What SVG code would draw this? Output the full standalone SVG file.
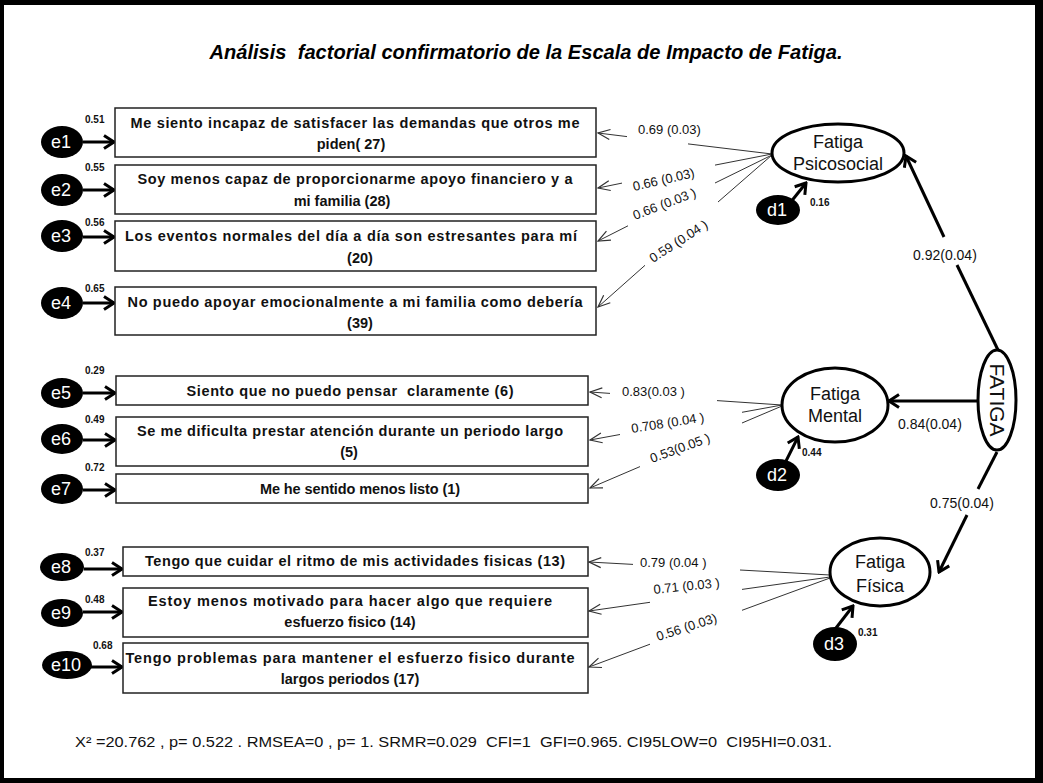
<svg xmlns="http://www.w3.org/2000/svg" width="1043" height="783" viewBox="0 0 1043 783">
<defs>
<style>
.box{fill:#fff;stroke:#222;stroke-width:1.5}
.bt{font-family:"Liberation Sans",Arial,sans-serif;font-weight:bold;font-size:14.5px;fill:#111;text-anchor:middle}
.err{fill:#000}
.et{font-family:"Liberation Sans",Arial,sans-serif;font-size:18px;fill:#fff;text-anchor:middle}
.sm{font-family:"Liberation Sans",Arial,sans-serif;font-weight:bold;font-size:10px;fill:#111}
.lat{fill:#fff;stroke:#000;stroke-width:3}
.lt{font-family:"Liberation Sans",Arial,sans-serif;font-size:18px;fill:#111;text-anchor:middle}
.lab{font-family:"Liberation Sans",Arial,sans-serif;font-size:13px;fill:#111}
.lab2{font-family:"Liberation Sans",Arial,sans-serif;font-size:14px;fill:#111}
.thick{stroke:#000;stroke-width:3;fill:none}
.thin{stroke:#333;stroke-width:1;fill:none}
</style>
<marker id="ah" markerUnits="userSpaceOnUse" viewBox="0 0 14 16" refX="12" refY="8" markerWidth="14" markerHeight="16" orient="auto">
<path d="M2,1.5 L12,8 L2,14.5" fill="none" stroke="#000" stroke-width="3"/>
</marker>
<marker id="at" markerUnits="userSpaceOnUse" viewBox="0 0 14 12" refX="13" refY="6" markerWidth="14" markerHeight="12" orient="auto">
<path d="M1,1 L13,6 L1,11" fill="none" stroke="#333" stroke-width="1.2"/>
</marker>
</defs>
<rect x="0" y="0" width="1043" height="783" fill="#000"/>
<rect x="4" y="5" width="1031" height="773" fill="#fff"/>
<text x="526" y="59" text-anchor="middle" font-family="'Liberation Sans',Arial,sans-serif" font-weight="bold" font-style="italic" font-size="20" textLength="633" lengthAdjust="spacingAndGlyphs" fill="#000" xml:space="preserve">Análisis  factorial confirmatorio de la Escala de Impacto de Fatiga.</text>

<g id="connectors">
<line class="thick" x1="83" y1="142" x2="114" y2="142" marker-end="url(#ah)"/>
<line class="thick" x1="83" y1="190" x2="114" y2="190" marker-end="url(#ah)"/>
<line class="thick" x1="83" y1="237" x2="114" y2="237" marker-end="url(#ah)"/>
<line class="thick" x1="83" y1="303" x2="114" y2="303" marker-end="url(#ah)"/>
<line class="thick" x1="83" y1="393" x2="115" y2="393" marker-end="url(#ah)"/>
<line class="thick" x1="83" y1="440" x2="115" y2="440" marker-end="url(#ah)"/>
<line class="thick" x1="83" y1="490" x2="115" y2="490" marker-end="url(#ah)"/>
<line class="thick" x1="84" y1="569" x2="122" y2="569" marker-end="url(#ah)"/>
<line class="thick" x1="83" y1="612" x2="122" y2="612" marker-end="url(#ah)"/>
<line class="thick" x1="91" y1="667" x2="122" y2="667" marker-end="url(#ah)"/>

<line class="thin" x1="627" y1="136.6" x2="598" y2="133" marker-end="url(#at)"/>
<line class="thin" x1="688" y1="143.9" x2="772" y2="154"/>
<line class="thin" x1="622" y1="183.1" x2="598" y2="188" marker-end="url(#at)"/>
<line class="thin" x1="715" y1="165.1" x2="772" y2="154"/>
<line class="thin" x1="628" y1="225.8" x2="598" y2="241" marker-end="url(#at)"/>
<line class="thin" x1="715" y1="183" x2="772" y2="155"/>
<line class="thin" x1="645" y1="265.3" x2="598" y2="307" marker-end="url(#at)"/>
<line class="thin" x1="718" y1="202" x2="772" y2="155"/>

<line class="thin" x1="610" y1="393.4" x2="590" y2="392" marker-end="url(#at)"/>
<line class="thin" x1="717" y1="400.6" x2="782" y2="405"/>
<line class="thin" x1="620" y1="434.5" x2="590" y2="440" marker-end="url(#at)"/>
<line class="thin" x1="742" y1="412.3" x2="782" y2="405"/>
<line class="thin" x1="640" y1="466.6" x2="590" y2="488" marker-end="url(#at)"/>
<line class="thin" x1="742" y1="423" x2="782" y2="406"/>

<line class="thin" x1="633" y1="564.4" x2="589" y2="562" marker-end="url(#at)"/>
<line class="thin" x1="740" y1="570" x2="830" y2="575"/>
<line class="thin" x1="650" y1="602.3" x2="589" y2="611" marker-end="url(#at)"/>
<line class="thin" x1="742" y1="589.4" x2="830" y2="577"/>
<line class="thin" x1="650" y1="644.2" x2="589" y2="667" marker-end="url(#at)"/>
<line class="thin" x1="742" y1="610.3" x2="830" y2="578"/>

<line class="thick" x1="998" y1="350" x2="957" y2="265"/>
<line class="thick" x1="944" y1="237" x2="906" y2="156" marker-end="url(#ah)"/>
<line class="thick" x1="978" y1="401" x2="889" y2="401" marker-end="url(#ah)"/>
<line class="thick" x1="997" y1="452" x2="978" y2="489"/>
<line class="thick" x1="967" y1="515" x2="939" y2="572" marker-end="url(#ah)"/>

<line class="thick" x1="790" y1="203" x2="806" y2="183" marker-end="url(#ah)"/>
<line class="thick" x1="786" y1="461" x2="798" y2="437" marker-end="url(#ah)"/>
<line class="thick" x1="836" y1="628" x2="853" y2="606" marker-end="url(#ah)"/>

<text class="lab" x="638" y="134">0.69 (0.03)</text>
<text class="lab" transform="translate(634,191) rotate(-13)">0.66 (0.03)</text>
<text class="lab" transform="translate(635,220) rotate(-21)">0.66 (0.03 )</text>
<text class="lab" transform="translate(653,263) rotate(-33)">0.59 (0.04 )</text>
<text class="lab" x="622" y="396">0.83(0.03 )</text>
<text class="lab" transform="translate(632,433) rotate(-9)">0.708 (0.04 )</text>
<text class="lab" transform="translate(652,463) rotate(-20)">0.53(0.05 )</text>
<text class="lab" x="640" y="567">0.79 (0.04 )</text>
<text class="lab" transform="translate(654,594) rotate(-6)">0.71 (0.03 )</text>
<text class="lab" transform="translate(658,641) rotate(-18)">0.56 (0.03)</text>
<text class="lab2" x="913" y="260">0.92(0.04)</text>
<text class="lab2" x="898" y="429">0.84(0.04)</text>
<text class="lab2" x="930" y="508">0.75(0.04)</text>
</g>

<g id="e1"><ellipse class="err" cx="62" cy="142" rx="21" ry="16"/><text class="et" x="61" y="148">e1</text><text class="sm" x="85" y="123">0.51</text></g>
<g id="e2"><ellipse class="err" cx="62" cy="190" rx="21" ry="16"/><text class="et" x="61" y="196">e2</text><text class="sm" x="85" y="171">0.55</text></g>
<g id="e3"><ellipse class="err" cx="62" cy="236" rx="21" ry="16"/><text class="et" x="61" y="242">e3</text><text class="sm" x="85" y="226">0.56</text></g>
<g id="e4"><ellipse class="err" cx="62" cy="303" rx="21" ry="16"/><text class="et" x="61" y="309">e4</text><text class="sm" x="85" y="292">0.65</text></g>
<g id="e5"><ellipse class="err" cx="62" cy="393" rx="21" ry="15"/><text class="et" x="61" y="399">e5</text><text class="sm" x="85" y="374">0.29</text></g>
<g id="e6"><ellipse class="err" cx="62" cy="439" rx="21" ry="15"/><text class="et" x="61" y="445">e6</text><text class="sm" x="85" y="423">0.49</text></g>
<g id="e7"><ellipse class="err" cx="62" cy="489" rx="21" ry="15"/><text class="et" x="61" y="495">e7</text><text class="sm" x="85" y="471">0.72</text></g>
<g id="e8"><ellipse class="err" cx="62" cy="567" rx="22" ry="14"/><text class="et" x="61" y="573">e8</text><text class="sm" x="85" y="556">0.37</text></g>
<g id="e9"><ellipse class="err" cx="62" cy="613" rx="21" ry="14"/><text class="et" x="61" y="619">e9</text><text class="sm" x="85" y="603">0.48</text></g>
<g id="e10"><ellipse class="err" cx="67" cy="665" rx="25" ry="14"/><text class="et" x="66" y="671">e10</text><text class="sm" x="93" y="649">0.68</text></g>

<g id="box1"><rect class="box" x="115" y="108" width="481" height="49"/><text class="bt" x="355" y="128" textLength="449" lengthAdjust="spacing">Me siento incapaz de satisfacer las demandas que otros me</text><text class="bt" x="351" y="149">piden( 27)</text></g>
<g id="box2"><rect class="box" x="115" y="165" width="481" height="49"/><text class="bt" x="355" y="184" textLength="435" lengthAdjust="spacing">Soy menos capaz de proporcionarme apoyo financiero y a</text><text class="bt" x="342" y="206">mi familia (28)</text></g>
<g id="box3"><rect class="box" x="115" y="221" width="481" height="50"/><text class="bt" x="351" y="241" textLength="452" lengthAdjust="spacing">Los eventos normales del día a día son estresantes para mí</text><text class="bt" x="360" y="263">(20)</text></g>
<g id="box4"><rect class="box" x="115" y="287" width="481" height="48"/><text class="bt" x="355" y="307" textLength="455" lengthAdjust="spacing">No puedo apoyar emocionalmente a mi familia como debería</text><text class="bt" x="360" y="328">(39)</text></g>

<g id="box5"><rect class="box" x="116" y="376" width="472" height="29"/><text class="bt" x="350" y="396" textLength="327" lengthAdjust="spacing" xml:space="preserve">Siento que no puedo pensar  claramente (6)</text></g>
<g id="box6"><rect class="box" x="116" y="417" width="472" height="49"/><text class="bt" x="350" y="436" textLength="426" lengthAdjust="spacing">Se me dificulta prestar atención durante un periodo largo</text><text class="bt" x="349" y="457">(5)</text></g>
<g id="box7"><rect class="box" x="116" y="474" width="472" height="29"/><text class="bt" x="360" y="494" textLength="200" lengthAdjust="spacing">Me he sentido menos listo (1)</text></g>

<g id="box8"><rect class="box" x="123" y="547" width="465" height="29"/><text class="bt" x="355" y="566" textLength="420" lengthAdjust="spacing">Tengo que cuidar el ritmo de mis actividades fisicas (13)</text></g>
<g id="box9"><rect class="box" x="123" y="588" width="465" height="49"/><text class="bt" x="350" y="606" textLength="404" lengthAdjust="spacing">Estoy menos motivado para hacer algo que requiere</text><text class="bt" x="350" y="627">esfuerzo fisico (14)</text></g>
<g id="box10"><rect class="box" x="123" y="643" width="465" height="50"/><text class="bt" x="350" y="663" textLength="449" lengthAdjust="spacing">Tengo problemas para mantener el esfuerzo fisico durante</text><text class="bt" x="350" y="684">largos periodos (17)</text></g>

<g id="psicosocial"><ellipse class="lat" cx="838" cy="153" rx="66" ry="29"/><text class="lt" x="838" y="148">Fatiga</text><text class="lt" x="838" y="170">Psicosocial</text></g>
<g id="mental"><ellipse class="lat" cx="835" cy="405" rx="53" ry="37"/><text class="lt" x="835" y="400">Fatiga</text><text class="lt" x="835" y="422">Mental</text></g>
<g id="fisica"><ellipse class="lat" cx="880" cy="572" rx="50" ry="34"/><text class="lt" x="880" y="568">Fatiga</text><text class="lt" x="880" y="592">Física</text></g>
<g id="fatiga"><ellipse class="lat" cx="997" cy="400" rx="19" ry="50"/><text class="lt" transform="translate(990,400) rotate(90)" style="font-size:21px">FATIGA</text></g>

<g id="d1"><ellipse class="err" cx="778" cy="210" rx="22" ry="15"/><text class="et" x="777" y="216">d1</text><text class="sm" x="810" y="206">0.16</text></g>
<g id="d2"><ellipse class="err" cx="778" cy="475" rx="22" ry="16"/><text class="et" x="777" y="481">d2</text><text class="sm" x="802" y="456">0.44</text></g>
<g id="d3"><ellipse class="err" cx="835" cy="644" rx="22" ry="17"/><text class="et" x="834" y="650">d3</text><text class="sm" x="858" y="636">0.31</text></g>

<text x="75" y="747" font-family="'Liberation Sans',Arial,sans-serif" font-size="15" textLength="757" lengthAdjust="spacingAndGlyphs" fill="#111" xml:space="preserve">X² =20.762 , p= 0.522 . RMSEA=0 , p= 1. SRMR=0.029  CFI=1  GFI=0.965. CI95LOW=0  CI95HI=0.031.</text>
</svg>
